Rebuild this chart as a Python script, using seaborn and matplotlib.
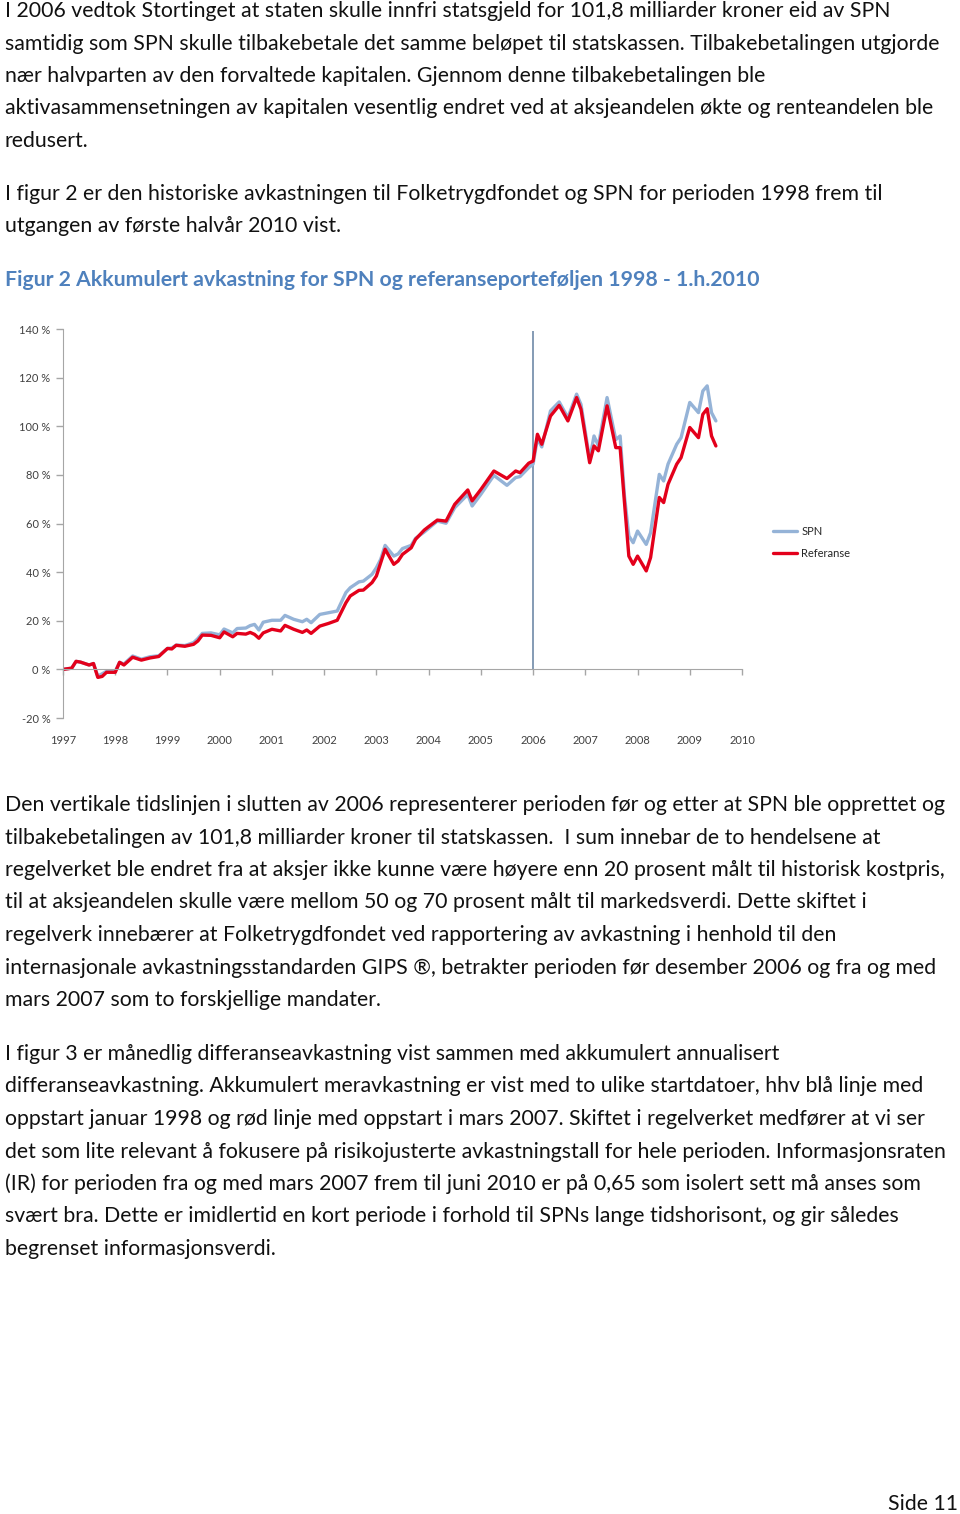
import matplotlib
matplotlib.use('Agg')
import matplotlib.pyplot as plt
import pandas as pd
import seaborn as sns
from matplotlib.ticker import FuncFormatter

months = [0, 2, 3, 4, 6, 7, 8, 9, 10, 12, 13, 14, 16, 18, 20, 22, 24, 25, 26, 28,
          30, 31, 32, 34, 36, 37, 39, 40, 42, 43, 44, 45, 46, 48, 50, 51, 53, 55, 56, 57,
          59, 61, 63, 65, 66, 68, 69, 71, 72, 73, 74, 76, 77, 78, 80, 81, 83, 84, 86, 88,
          90, 93, 94, 96, 99, 102, 104, 105, 107, 108, 109, 110, 112, 114, 116, 118, 119, 121, 122, 123,
          125, 127, 128, 129, 130, 131, 132, 134, 135, 137, 138, 139, 141, 142, 144, 146, 147, 148, 149, 150]
spn = [0, 0.5, 3.3, 3.0, 1.8, 2.4, -2.8, -1.8, -0.8, -0.8, 2.9, 2.2, 5.5, 4.2, 5.2, 5.6, 8.6, 8.8, 10.0, 9.8,
       11.0, 12.7, 14.8, 15.0, 14.2, 16.6, 15.0, 16.8, 17.0, 18.0, 18.5, 16.2, 19.4, 20.2, 20.2, 22.2, 20.6, 19.6, 20.6, 19.2,
       22.6, 23.3, 24.0, 31.6, 33.6, 36.0, 36.3, 39.1, 41.8, 45.3, 51.0, 46.6, 47.5, 49.7, 51.0, 53.9, 56.5, 58.0, 61.0, 60.1,
       66.5, 72.0, 67.2, 72.0, 79.8, 75.7, 78.9, 79.3, 83.0, 84.4, 95.0, 91.5, 106.3, 110.0, 103.5, 113.2, 109.0, 86.4, 96.0, 92.0,
       111.8, 94.5, 96.0, 71.3, 54.9, 52.1, 56.9, 51.4, 56.2, 80.2, 77.5, 84.4, 92.6, 95.3, 109.8, 105.6, 114.5, 116.6, 105.6, 102.2]
referanse = [0, 0.5, 3.3, 3.0, 1.8, 2.4, -3.3, -2.9, -1.2, -1.2, 2.9, 1.8, 5.0, 3.8, 4.7, 5.3, 8.6, 8.4, 9.9, 9.5,
             10.3, 11.7, 14.1, 14.0, 13.0, 15.4, 13.4, 14.8, 14.5, 15.2, 14.4, 12.8, 15.0, 16.5, 15.8, 18.1, 16.5, 15.2, 16.2, 14.8,
             17.8, 18.9, 20.2, 27.4, 30.2, 32.5, 32.6, 35.7, 38.4, 43.9, 49.4, 43.2, 44.6, 47.3, 50.0, 53.5, 57.3, 58.7, 61.4, 61.0,
             67.9, 73.8, 69.3, 74.0, 81.6, 78.5, 81.6, 80.9, 84.8, 85.7, 96.7, 92.6, 104.2, 108.6, 102.2, 111.8, 107.0, 85.0, 91.9, 89.9,
             108.4, 91.2, 91.2, 68.6, 46.6, 43.2, 46.6, 40.5, 46.0, 70.7, 68.6, 76.1, 84.4, 87.1, 99.5, 95.3, 104.9, 107.2, 96.0, 91.9]
year_ticks = list(range(1997, 2011))
start_year = 1997
split_year = 2006

para1 = ["I 2006 vedtok Stortinget at staten skulle innfri statsgjeld for 101,8 milliarder kroner eid av SPN",
         "samtidig som SPN skulle tilbakebetale det samme beløpet til statskassen. Tilbakebetalingen utgjorde",
         "nær halvparten av den forvaltede kapitalen. Gjennom denne tilbakebetalingen ble",
         "aktivasammensetningen av kapitalen vesentlig endret ved at aksjeandelen økte og renteandelen ble",
         "redusert."]
para2 = ["I figur 2 er den historiske avkastningen til Folketrygdfondet og SPN for perioden 1998 frem til",
         "utgangen av første halvår 2010 vist."]
caption = "Figur 2 Akkumulert avkastning for SPN og referanseporteføljen 1998 - 1.h.2010"
para3 = ["Den vertikale tidslinjen i slutten av 2006 representerer perioden før og etter at SPN ble opprettet og",
         "tilbakebetalingen av 101,8 milliarder kroner til statskassen.  I sum innebar de to hendelsene at",
         "regelverket ble endret fra at aksjer ikke kunne være høyere enn 20 prosent målt til historisk kostpris,",
         "til at aksjeandelen skulle være mellom 50 og 70 prosent målt til markedsverdi. Dette skiftet i",
         "regelverk innebærer at Folketrygdfondet ved rapportering av avkastning i henhold til den",
         "internasjonale avkastningsstandarden GIPS ®, betrakter perioden før desember 2006 og fra og med",
         "mars 2007 som to forskjellige mandater."]
para4 = ["I figur 3 er månedlig differanseavkastning vist sammen med akkumulert annualisert",
         "differanseavkastning. Akkumulert meravkastning er vist med to ulike startdatoer, hhv blå linje med",
         "oppstart januar 1998 og rød linje med oppstart i mars 2007. Skiftet i regelverket medfører at vi ser",
         "det som lite relevant å fokusere på risikojusterte avkastningstall for hele perioden. Informasjonsraten",
         "(IR) for perioden fra og med mars 2007 frem til juni 2010 er på 0,65 som isolert sett må anses som",
         "svært bra. Dette er imidlertid en kort periode i forhold til SPNs lange tidshorisont, og gir således",
         "begrenset informasjonsverdi."]

sns.set_style('white')
plt.rcParams['font.family'] = ['Lato', 'DejaVu Sans']

W, H = 960, 1514
fig = plt.figure(figsize=(W / 100, H / 100), dpi=100)
body = 15.3

# page text, one fig.text per printed line
def put_lines(lines, y0, step=32.5, size=body, **kw):
    for i, s in enumerate(lines):
        fig.text(5 / W, 1 - (y0 + i * step) / H, s, ha='left', va='center',
                 fontsize=size, color='#111111', **kw)

put_lines(para1, 11)
put_lines(para2, 194)
fig.text(5 / W, 1 - 280 / H, caption, ha='left', va='center', fontsize=body,
         fontweight='bold', color='#4f81bd')
put_lines(para3, 805)
put_lines(para4, 1054)
fig.text(958 / W, 1 - 1504 / H, "Side 11", ha='right', va='center', fontsize=body, color='#111111')

# chart
ax = fig.add_axes([63 / W, 1 - 718 / H, (742 - 63) / W, (718 - 329) / H])
df = pd.DataFrame({'year': [start_year + m / 12 for m in months], 'SPN': spn, 'Referanse': referanse})
long = df.melt(id_vars='year', var_name='serie', value_name='avk')
sns.lineplot(data=long, x='year', y='avk', hue='serie', hue_order=['SPN', 'Referanse'],
             palette={'SPN': '#95b3d7', 'Referanse': '#e3001b'}, linewidth=2.4, ax=ax)

ax.vlines(split_year, 0, 139, color='#6f8aa8', linewidth=1.2, zorder=1)

ax.set_xlim(start_year, year_ticks[-1])
ax.set_ylim(-20, 140)
ax.set_yticks(range(-20, 141, 20))
ax.yaxis.set_major_formatter(FuncFormatter(lambda v, p: f"{v:.0f} %"))
ax.set_xticks(year_ticks)
ax.set_xticklabels([str(y) for y in year_ticks])
ax.set_xlabel('')
ax.set_ylabel('')

for s in ['top', 'right']:
    ax.spines[s].set_visible(False)
ax.spines['left'].set_color('#a6a6a6')
ax.spines['bottom'].set_color('#a6a6a6')
ax.spines['bottom'].set_position(('data', 0))
ax.tick_params(axis='y', direction='out', length=5, width=1, color='#a6a6a6',
               labelsize=8, labelcolor='#404040', pad=4, left=True)
ax.tick_params(axis='x', direction='out', length=4, width=1, color='#a6a6a6',
               labelsize=8, labelcolor='#404040', pad=43, bottom=True)

ax.legend(loc='upper left', bbox_to_anchor=(773 / W, 1 - 526 / H), bbox_transform=fig.transFigure,
          frameon=False, fontsize=8, handlelength=2.2, handletextpad=0.35, labelspacing=0.95,
          borderpad=0, borderaxespad=0, title=None)

fig.savefig('out.png', dpi=100)
